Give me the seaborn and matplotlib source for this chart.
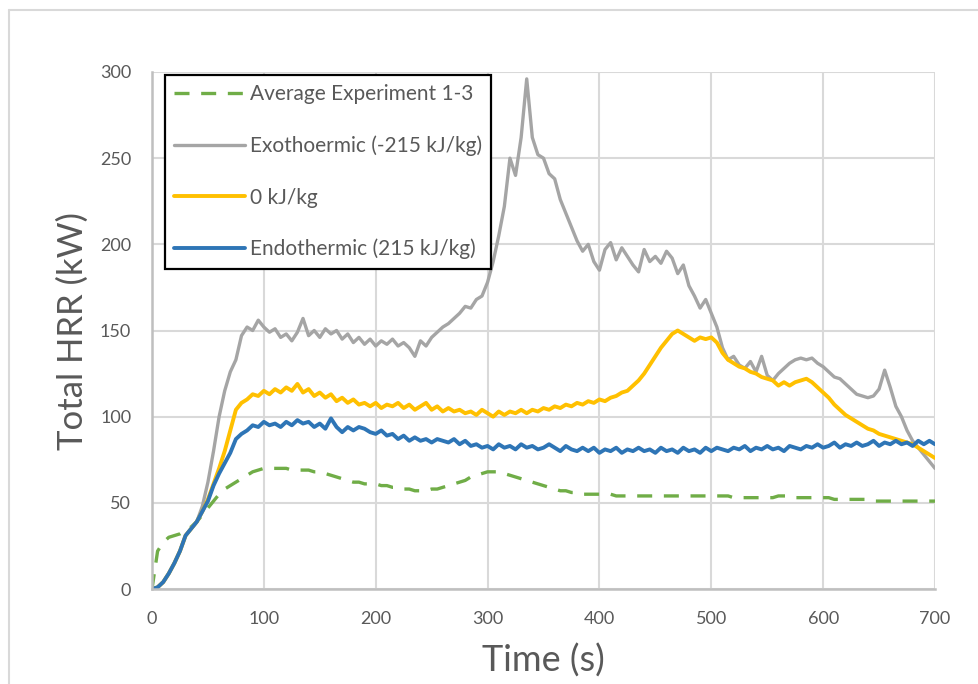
"""
Total heat release rate vs time for the three reaction-enthalpy cases
and the averaged experiment. Saves out.png.
"""

import numpy as np
import pandas as pd
import seaborn as sns
from matplotlib import pyplot as plt
from matplotlib.lines import Line2D

# Time grid (s), one sample every 5 s
TIME = np.arange(0, 701, 5)

# Average Experiment 1-3 (kW)
AVG_EXP = [
    0, 22, 27, 30, 31, 32, 34, 36, 39, 43, 47, 51, 55, 58, 60, 62, 64, 66, 68, 69,
    70, 70, 70, 70, 70, 69, 69, 69, 69, 68, 68, 67, 66, 65, 64, 63, 62, 62, 61, 61,
    61, 60, 60, 59, 59, 58, 58, 57, 57, 57, 58, 58, 59, 60, 61, 62, 63, 65, 66, 67,
    68, 68, 68, 67, 66, 65, 64, 63, 62, 61, 60, 59, 58, 57, 57, 56, 56, 55, 55, 55,
    55, 55, 55, 54, 54, 54, 54, 54, 54, 54, 54, 54, 54, 54, 54, 54, 54, 54, 54, 54,
    54, 54, 54, 54, 53, 53, 53, 53, 53, 53, 53, 53, 54, 54, 54, 53, 53, 53, 53, 53,
    53, 53, 52, 52, 52, 52, 52, 52, 52, 51, 51, 51, 51, 51, 51, 51, 51, 51, 51, 51,
    51,
]

# Exothermic (-215 kJ/kg) (kW)
EXO = [
    0, 1, 4, 9, 15, 22, 31, 35, 39, 48, 62, 80, 100, 115, 126, 133, 147, 152, 150, 156,
    152, 149, 151, 146, 148, 144, 149, 157, 147, 150, 146, 151, 148, 150, 145, 148, 143, 146, 142, 145,
    141, 144, 142, 145, 141, 143, 140, 135, 144, 141, 146, 149, 152, 154, 157, 160, 164, 163, 168, 170,
    178, 190, 205, 222, 250, 240, 262, 296, 262, 252, 250, 241, 238, 226, 218, 210, 202, 196, 200, 190,
    185, 197, 201, 191, 198, 193, 188, 184, 197, 190, 193, 189, 196, 192, 183, 188, 176, 170, 163, 168,
    160, 152, 140, 133, 135, 130, 128, 132, 126, 135, 124, 121, 125, 128, 131, 133, 134, 133, 134, 131,
    129, 126, 123, 122, 119, 116, 113, 112, 111, 112, 116, 127, 117, 106, 100, 92, 86, 82, 78, 74,
    70,
]

# 0 kJ/kg (kW)
ZERO = [
    0, 1, 4, 9, 15, 22, 31, 35, 39, 45, 52, 61, 70, 80, 92, 104, 108, 110, 113, 112,
    115, 113, 116, 114, 117, 115, 119, 114, 116, 112, 114, 111, 113, 109, 111, 108, 110, 107, 108, 106,
    108, 105, 107, 106, 108, 105, 107, 104, 106, 108, 104, 106, 103, 105, 103, 104, 102, 103, 101, 104,
    102, 100, 103, 101, 103, 102, 104, 102, 104, 103, 105, 104, 106, 105, 107, 106, 108, 107, 109, 108,
    110, 109, 111, 112, 114, 115, 118, 121, 125, 130, 135, 140, 144, 148, 150, 148, 146, 144, 146, 145,
    146, 143, 137, 133, 131, 129, 128, 126, 125, 123, 122, 121, 118, 120, 118, 120, 121, 122, 120, 117,
    114, 111, 107, 104, 101, 99, 97, 95, 93, 92, 90, 89, 88, 87, 86, 85, 84, 82, 80, 78,
    76,
]

# Endothermic (215 kJ/kg) (kW)
ENDO = [
    0, 1, 4, 9, 15, 22, 31, 35, 39, 45, 51, 60, 67, 73, 79, 87, 90, 92, 95, 94,
    97, 95, 96, 94, 97, 95, 98, 96, 97, 94, 96, 93, 99, 94, 91, 94, 92, 94, 93, 91,
    90, 92, 89, 90, 87, 89, 86, 88, 86, 87, 85, 87, 86, 85, 87, 84, 86, 83, 84, 82,
    83, 81, 84, 82, 83, 81, 84, 82, 83, 81, 82, 84, 82, 80, 83, 81, 80, 82, 80, 82,
    79, 81, 80, 82, 79, 81, 80, 82, 80, 81, 79, 82, 80, 81, 79, 82, 80, 81, 79, 82,
    80, 82, 81, 80, 82, 81, 83, 80, 82, 81, 83, 81, 82, 80, 83, 82, 81, 83, 82, 84,
    82, 83, 85, 82, 84, 83, 85, 83, 84, 86, 83, 85, 84, 86, 84, 85, 83, 86, 84, 86,
    84,
]

SERIES = [
    ("Average Experiment 1-3", AVG_EXP, "#70AD47", 2.4, (0, (4.5, 3.5))),
    ("Exothoermic (-215 kJ/kg)", EXO, "#A5A5A5", 2.4, "-"),
    ("0 kJ/kg", ZERO, "#FFC000", 2.8, "-"),
    ("Endothermic (215 kJ/kg)", ENDO, "#2E75B6", 2.8, "-"),
]

TEXT_COLOR = "#595959"
GRID_COLOR = "#D9D9D9"

sns.set_theme(style="white")
plt.rcParams["font.family"] = ["Lato", "DejaVu Sans"]

fig = plt.figure(figsize=(9.79, 6.84), dpi=100)
ax = fig.add_axes([152 / 979, 1 - 589 / 684, 783 / 979, 517 / 684])

for label, values, color, lw, ls in SERIES:
    df = pd.DataFrame({"time": TIME, "hrr": values})
    sns.lineplot(
        data=df, x="time", y="hrr", ax=ax, color=color,
        linewidth=lw, linestyle=ls, label=label, estimator=None,
    )

ax.set_xlim(0, 700)
ax.set_ylim(0, 300)
ax.set_xticks(range(0, 701, 100))
ax.set_yticks(range(0, 301, 50))
ax.grid(True, color=GRID_COLOR, linewidth=1.5)
ax.set_axisbelow(True)
for side in ("top", "right"):
    ax.spines[side].set_visible(False)
for side in ("left", "bottom"):
    ax.spines[side].set_color("#BFBFBF")
    ax.spines[side].set_linewidth(1.8)
ax.tick_params(axis="both", colors=TEXT_COLOR, labelsize=13, length=0)
ax.tick_params(axis="x", pad=16)
ax.tick_params(axis="y", pad=15)

ax.set_xlabel("Time (s)", fontsize=26, color=TEXT_COLOR, labelpad=12)
ax.set_ylabel("Total HRR (kW)", fontsize=25, color=TEXT_COLOR, labelpad=8)

leg = ax.legend(
    loc="upper left", bbox_to_anchor=(0.0166, 0.994), borderaxespad=0,
    fontsize=15, handlelength=3.4, handletextpad=0.22, labelspacing=1.5,
    borderpad=0.45, fancybox=False, framealpha=1, edgecolor="black",
)
leg.get_frame().set_linewidth(1.6)
for t in leg.get_texts():
    t.set_color(TEXT_COLOR)

# Light chart-area border (runs off the right and bottom edges)
fig.add_artist(Line2D([9 / 979, 1.0], [1 - 10 / 684] * 2, color=GRID_COLOR, linewidth=1.5))
fig.add_artist(Line2D([9 / 979] * 2, [0.0, 1 - 10 / 684], color=GRID_COLOR, linewidth=1.5))

fig.savefig("out.png", dpi=100)
